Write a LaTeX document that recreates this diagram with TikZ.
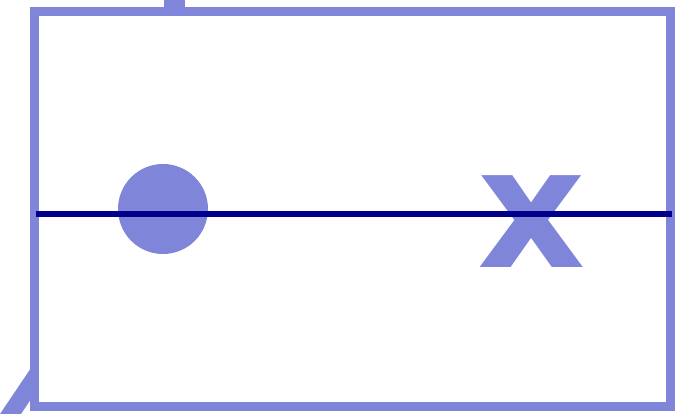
\documentclass[tikz,border=0pt]{standalone}
\usepackage{fontspec}
\newfontfamily\markfont{DejaVu Sans}
\usetikzlibrary{positioning}
\definecolor{periwink}{RGB}{127,133,216}
\definecolor{navyline}{RGB}{0,0,139}
\begin{document}
\begin{tikzpicture}[x=1pt, y=-1pt,
  frame/.style={draw=periwink, line width=9pt},
  ball/.style={circle, fill=periwink, minimum size=90pt, inner sep=0pt},
  cross/.style={text=periwink, inner sep=0pt, font=\markfont\bfseries\fontsize{168}{168}\selectfont},
  axis/.style={navyline, line width=6pt}]
  \useasboundingbox (0,0) rectangle (683,414);
  % strokes running out of the frame
  \fill[periwink] (164,0) -- (185,0) -- (185,8) -- (164,8) -- cycle;
  \fill[periwink] (0,414) -- (31,368) -- (31,399) -- (21,414) -- cycle;
  \draw[frame] (34,11.5) rectangle (670,406);
  \node[ball] (ball) at (163,209) {};
  \node[cross] (cross) at (532,222) {x};
  \coordinate (axisL) at (36,214);
  \coordinate (axisR) at (672,214);
  \draw[axis] (axisL) -- (axisR);
\end{tikzpicture}
\end{document}
